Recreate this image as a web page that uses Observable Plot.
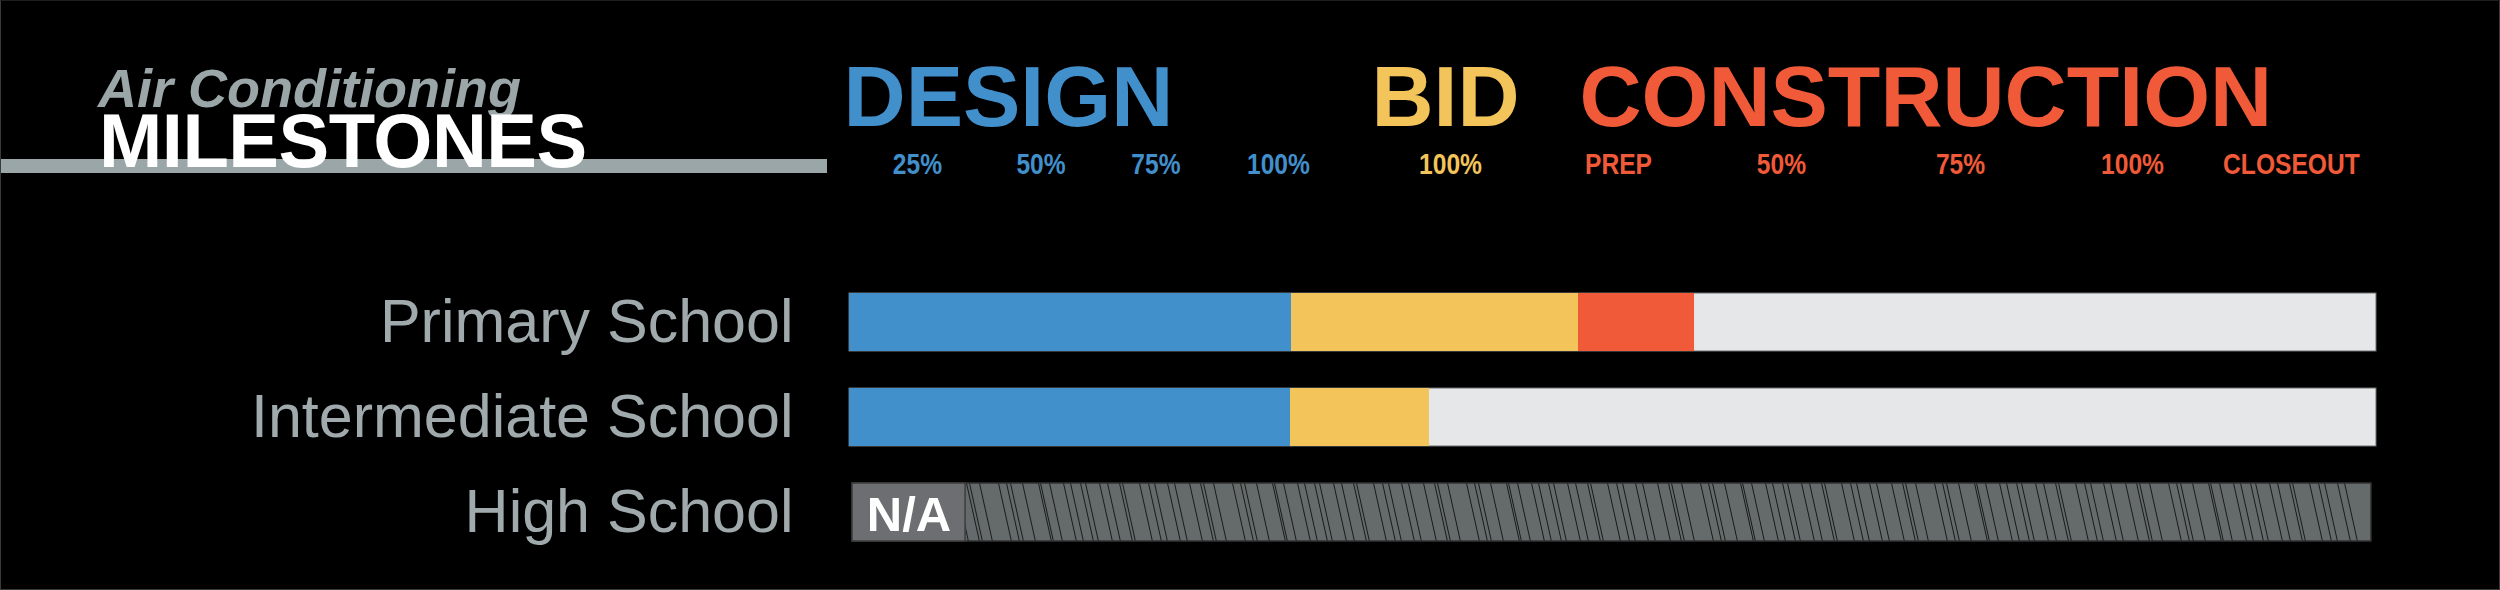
<!DOCTYPE html>
<html>
<head>
<meta charset="utf-8">
<script src="https://cdn.jsdelivr.net/npm/d3@7"></script>
<script src="https://cdn.jsdelivr.net/npm/@observablehq/plot@0.6"></script>
<style>
  html, body { margin: 0; padding: 0; background: #000; overflow: hidden; }
  #wrap { position: relative; width: 2500px; height: 590px; background: #000; }
  #frame { position: absolute; left: 0; top: 0; width: 2500px; height: 590px; box-sizing: border-box;
           border: 1px solid #3a3a3a; border-top-color: #1e1e1e; pointer-events: none; }
  .t { position: absolute; white-space: nowrap; line-height: 1; font-family: "Liberation Sans", Arial, sans-serif; font-weight: bold; }
  #sub { left: 98px; top: 61px; font-size: 54px; font-style: italic; color: #9ba6a9; }
  #rule { position: absolute; left: 0; top: 159px; width: 827px; height: 14px; background: #9ba6a9; }
  #main { left: 99px; top: 103px; font-size: 76px; color: #fff; letter-spacing: -0.5px; }
  #chart { position: absolute; left: 0; top: 0; }
</style>
</head>
<body>
<div id="wrap">
  <svg width="0" height="0" style="position:absolute">
    <defs>
      <pattern id="hatch" patternUnits="objectBoundingBox" x="0" y="0" width="1" height="1">
        <rect x="0" y="0" width="3000" height="200" fill="#656b6b"></rect>
        <g id="hatchlines" stroke="#0d0d0d" stroke-width="0.9"></g>
      </pattern>
    </defs>
  </svg>
  <div id="chart"></div>
  <div id="rule"></div>
  <div class="t" id="sub">Air Conditioning</div>
  <div class="t" id="main">MILESTONES</div>
  <div id="frame"></div>
</div>
<script>
// ---- data ----
const schools = ["Primary School", "Intermediate School", "High School"];
const designEnd = [28.95, 28.88, null];
const bidEnd = [47.74, 37.98, null];
const constructionEnd = [55.34, 37.98, null];
const trackStart = [0, 0, 0.2];
const trackEnd = [100, 100, 99.67];
const naEnd = [null, null, 7.6];
const naLabel = "N/A";

const phases = ["DESIGN", "BID", "CONSTRUCTION"];
const phaseStart = [-0.39, 34.18, 47.8];
const phaseColors = ["#418fcb", "#f2c45a", "#f05a38"];

const milestoneLabels = ["25%", "50%", "75%", "100%", "100%", "PREP", "50%", "75%", "100%", "CLOSEOUT"];
const milestonePhase = ["DESIGN", "DESIGN", "DESIGN", "DESIGN", "BID", "CONSTRUCTION", "CONSTRUCTION", "CONSTRUCTION", "CONSTRUCTION", "CONSTRUCTION"];
const milestoneX = [4.45, 12.54, 20.07, 28.09, 39.36, 50.36, 61.03, 72.76, 84.02, 94.43];

const trackColor = "#e6e7e8";
const hatchGaps = [10, 5, 14, 8, 12, 3, 17, 9, 6, 13, 7, 15, 11, 3, 10, 19, 8, 4, 12, 16, 2, 9, 14, 7];

// ---- hatch pattern lines ----
{
  const g = document.getElementById("hatchlines");
  let o = -16, i = 0, s = "";
  while (o < 1500) { s += `M${o},-2L${o + 14},61`; o += hatchGaps[i++ % hatchGaps.length]; }
  const p = document.createElementNS("http://www.w3.org/2000/svg", "path");
  p.setAttribute("d", s); p.setAttribute("fill", "none");
  g.appendChild(p);
}

// ---- build tables ----
const colorOf = Object.fromEntries(phases.map((p, i) => [p, phaseColors[i]]));
const tracks = schools.map((s, i) => ({school: s, x1: trackStart[i], x2: trackEnd[i], na: naEnd[i] != null}));
const segments = [];
schools.forEach((s, i) => {
  if (designEnd[i] == null) return;
  const bounds = [0, designEnd[i], bidEnd[i], constructionEnd[i]];
  phases.forEach((p, k) => {
    if (bounds[k + 1] > bounds[k]) segments.push({school: s, phase: p, x1: bounds[k], x2: bounds[k + 1]});
  });
});
const naRows = schools.map((s, i) => ({school: s, x1: trackStart[i], x2: naEnd[i]})).filter(d => d.x2 != null);
const headers = phases.map((p, i) => ({phase: p, x: phaseStart[i]}));
const milestones = milestoneLabels.map((l, i) => ({label: l, phase: milestonePhase[i], x: milestoneX[i]}));

const sans = "'Liberation Sans', Arial, Helvetica, sans-serif";

const chart = Plot.plot({
  width: 2500,
  height: 590,
  marginLeft: 849,
  marginRight: 124,
  marginTop: 255,
  marginBottom: 12,
  style: {background: "#000", fontFamily: sans},
  x: {domain: [0, 100], axis: null},
  y: {domain: schools, paddingInner: 0.39, paddingOuter: 0.39},
  marks: [
    Plot.axisY({tickSize: 0, tickPadding: 56, fontSize: 61, color: "#a0aaad", fontFamily: sans, label: null}),
    Plot.barX(tracks.filter(d => !d.na), {x1: "x1", x2: "x2", y: "school", fill: trackColor, stroke: "#6d6e71", strokeWidth: 1}),
    Plot.barX(tracks.filter(d => d.na), {x1: "x1", x2: "x2", y: "school", fill: "url(#hatch)", stroke: "#333", strokeWidth: 1.5}),
    Plot.barX(segments, {x1: "x1", x2: "x2", y: "school", fill: d => colorOf[d.phase]}),
    Plot.barX(naRows, {x1: "x1", x2: "x2", y: "school", fill: "#6d6e71", stroke: "#3d3d3d", strokeWidth: 1.5}),
    Plot.text(naRows, {x: d => (d.x1 + d.x2) / 2, y: "school", text: () => naLabel, fill: "#fff", fontSize: 49, fontWeight: "bold", fontFamily: sans, dy: 3}),
    Plot.text(headers, {x: "x", text: "phase", frameAnchor: "top", lineAnchor: "middle", textAnchor: "start", dy: -157.5, fontSize: 86, fontWeight: "bold", fontFamily: sans, fill: d => colorOf[d.phase]}),
    Plot.text(milestones, {x: "x", text: "label", frameAnchor: "top", lineAnchor: "middle", dy: -91.6, fontSize: 30, fontWeight: "bold", fontFamily: sans, fill: d => colorOf[d.phase]})
  ]
});
document.getElementById("chart").appendChild(chart);

// condense the small milestone labels (narrow bold face in the original)
chart.querySelectorAll('g[font-size="30"] text').forEach(t => {
  const w = t.getComputedTextLength();
  if (w > 0) {
    t.setAttribute("textLength", (w * 0.82).toFixed(1));
    t.setAttribute("lengthAdjust", "spacingAndGlyphs");
  }
});
</script>
</body>
</html>
